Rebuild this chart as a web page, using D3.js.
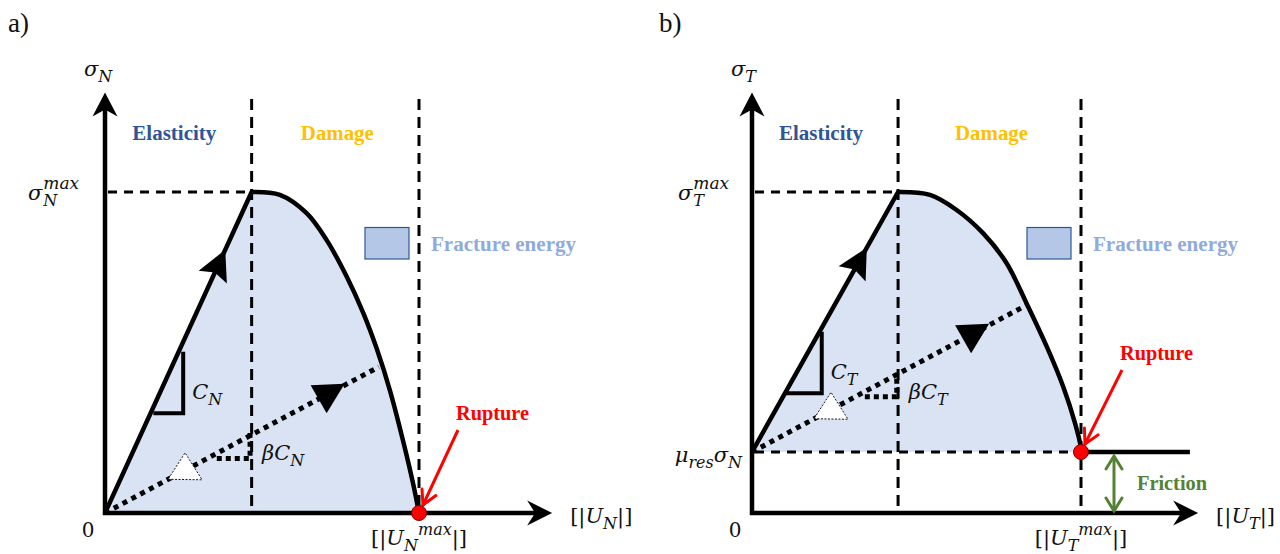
<!DOCTYPE html>
<html><head><meta charset="utf-8">
<script src="https://cdn.jsdelivr.net/npm/d3@7"></script>
<style>body{margin:0;background:#fff}svg{display:block}</style>
</head><body>
<svg id="c" width="1280" height="554"></svg>
<script>
// ---------------- data (normalised: U / U_max , sigma / sigma_max) ----------------
const panelTags = ["a)", "b)"];
const regionLabels = ["Elasticity", "Damage"];
const legendLabel = "Fracture energy";
const ruptureLabel = "Rupture";
const frictionLabel = "Friction";
// panel a : normal law
const curveA_u = [0, 0.467, 0.557, 0.642, 0.706, 0.770, 0.823, 0.865, 0.908, 0.950, 0.982, 1.0];
const curveA_s = [0, 1.0, 0.991, 0.934, 0.850, 0.736, 0.622, 0.513, 0.380, 0.222, 0.088, 0];
const unloadA_u = [0, 0.872];
const unloadA_s = [0, 0.455];
// panel b : tangential law
const residualB = 0.19;
const curveB_u = [0, 0.444, 0.541, 0.622, 0.703, 0.774, 0.835, 0.896, 0.946, 0.982, 0.999, 1.0];
const curveB_s = [0.19, 1.0, 0.991, 0.944, 0.871, 0.778, 0.652, 0.518, 0.393, 0.279, 0.207, 0.19];
const unloadB_u = [0, 0.835];
const unloadB_s = [0.19, 0.648];
const frictionEndB = 1.331;

// ---------------- styling ----------------
const SERIF = "'Liberation Serif','DejaVu Serif',serif";
const MATH = "'DejaVu Serif','Liberation Serif',serif";
const C = {fill:"#DAE3F3", legFill:"#B4C7E7", legStroke:"#2F5597", elas:"#2F5597",
  dam:"#FFC000", frac:"#8FAADC", red:"#FF0000", green:"#548235"};

const svg = d3.select("#c");

function pts(us, ss, x, y){ return us.map((u,i)=>[x(u), y(ss[i])]); }

function stealth(g, tip, dir, len, hw, notch, fill){
  const [dx,dy]=dir, px=-dy, py=dx;
  const b=[tip[0]-dx*len, tip[1]-dy*len];
  const n=[tip[0]-dx*notch, tip[1]-dy*notch];
  g.append("path").attr("d",`M${tip}L${b[0]+px*hw},${b[1]+py*hw}L${n}L${b[0]-px*hw},${b[1]-py*hw}Z`)
    .attr("fill",fill||"#000");
}
function vArrow(g, from, to, color, w, hl){
  g.append("line").attr("x1",from[0]).attr("y1",from[1]).attr("x2",to[0]).attr("y2",to[1])
    .attr("stroke",color).attr("stroke-width",w);
  const a=Math.atan2(from[1]-to[1], from[0]-to[0]);
  [0.5,-0.5].forEach(d=>{
    g.append("line").attr("x1",to[0]).attr("y1",to[1])
     .attr("x2",to[0]+hl*Math.cos(a+d)).attr("y2",to[1]+hl*Math.sin(a+d))
     .attr("stroke",color).attr("stroke-width",w).attr("stroke-linecap","round");
  });
}
// math text: parts = [text, kind] kind: 'n' normal, 'i' italic, 'sub', 'sup'
function mathText(g, x, y, parts, anchor, size){
  size=size||20;
  const t=g.append("text").attr("x",x).attr("y",y).attr("font-family",MATH)
    .attr("font-size",size).attr("text-anchor",anchor||"start").attr("fill","#111");
  let shift=0;
  parts.forEach(([s,k])=>{
    const sp=t.append("tspan").text(s);
    let target=0;
    if(k==="sub"){target=6; sp.attr("font-size",size*0.76).attr("font-style","italic");}
    else if(k==="sup"){target=-10; sp.attr("font-size",size*0.76).attr("font-style","italic");}
    else if(k==="i"){sp.attr("font-style","italic");}
    sp.attr("dy",target-shift); shift=target;
  });
  return t;
}
// stacked sigma with sub and sup
function sigmaSubSup(g, x, y, sub){
  const s=g.append("text").attr("x",x).attr("y",y).attr("font-family",MATH).attr("font-size",21)
    .attr("font-style","italic").attr("fill","#111").text("σ");
  const w=s.node().getComputedTextLength();
  g.append("text").attr("x",x+w+1).attr("y",y+6).attr("font-family",MATH).attr("font-size",16)
    .attr("font-style","italic").attr("fill","#111").text(sub);
  g.append("text").attr("x",x+w+1).attr("y",y-11).attr("font-family",MATH).attr("font-size",17)
    .attr("font-style","italic").attr("fill","#111").text("max");
}

function drawPanel(cfg){
  const g=svg.append("g");
  const {x,y,base,sym}=cfg;
  const P=pts(cfg.cu, cfg.cs, x, y);
  const origin=P[0], peak=P[1], end=P[P.length-1];
  const soft=d3.line().curve(d3.curveCatmullRom.alpha(0.5))(P.slice(1));
  const law=`M${origin}L${soft.slice(1)}`;
  const y0=y(0), yTop=y(1.31), yDashTop=y(1.29), xTip=x(cfg.xTipU);

  // fracture-energy area
  g.append("path").attr("d",law+"Z").attr("fill",C.fill);

  // dashed guide lines
  const dash=(x1,y1,x2,y2,da)=>g.append("line").attr("x1",x1).attr("y1",y1).attr("x2",x2).attr("y2",y2)
    .attr("stroke","#000").attr("stroke-width",3).attr("stroke-dasharray",da);
  dash(peak[0], yDashTop, peak[0], y0, "11,7");
  dash(x(1), yDashTop, x(1), y0, "11,7");
  dash(x(0)+3, peak[1], peak[0], peak[1], "9,7");
  if(base>0) dash(x(0)+3, y(base), x(1), y(base), "9,7");

  // unloading (dotted)
  const U=pts(cfg.uu, cfg.us, x, y);
  g.append("line").attr("x1",U[0][0]).attr("y1",U[0][1]).attr("x2",U[1][0]).attr("y2",U[1][1])
    .attr("stroke","#000").attr("stroke-width",5).attr("stroke-dasharray","5,5");
  const slope=(U[1][1]-U[0][1])/(U[1][0]-U[0][0]);
  const onU=px=>[px, U[0][1]+slope*(px-U[0][0])];

  // stiffness triangles
  const ct=cfg.cTri;
  g.append("path").attr("d",`M${x(ct[1])},${y(ct[2])}L${x(ct[0])},${y(ct[2])}L${x(ct[0])},${y(ct[3])}`)
    .attr("fill","none").attr("stroke","#000").attr("stroke-width",4);
  const bt=cfg.bTri;
  g.append("path").attr("d",`M${x(bt[1])},${y(bt[2])}L${x(bt[0])},${y(bt[2])}L${x(bt[0])},${y(bt[3])}`)
    .attr("fill","none").attr("stroke","#000").attr("stroke-width",5).attr("stroke-dasharray","5,4");

  // law curve
  g.append("path").attr("d",law).attr("fill","none").attr("stroke","#000")
    .attr("stroke-width",4.5).attr("stroke-linejoin","round");
  if(cfg.fricEnd) g.append("line").attr("x1",end[0]).attr("y1",end[1]).attr("x2",x(cfg.fricEnd)).attr("y2",end[1])
    .attr("stroke","#000").attr("stroke-width",4.5);

  // axes
  g.append("line").attr("x1",x(0)).attr("y1",y0+2).attr("x2",x(0)).attr("y2",yTop+12)
    .attr("stroke","#000").attr("stroke-width",4.5);
  g.append("line").attr("x1",x(0)-2).attr("y1",y0).attr("x2",xTip-12).attr("y2",y0)
    .attr("stroke","#000").attr("stroke-width",4.5);
  stealth(g,[x(0),yTop],[0,-1],24,12.5,17);
  stealth(g,[xTip,y0],[1,0],25,12.5,17);

  // loading arrow on elastic branch
  const L=Math.hypot(peak[0]-origin[0], peak[1]-origin[1]);
  const dir=[(peak[0]-origin[0])/L,(peak[1]-origin[1])/L];
  const tip=[origin[0]+dir[0]*L*cfg.tLoad, origin[1]+dir[1]*L*cfg.tLoad];
  stealth(g,tip,dir,30,15.5,25);

  // unloading / reloading triangles
  const f=onU(x(cfg.triDown));
  g.append("path").attr("d",`M${f[0]-17},${f[1]-9}L${f[0]+17},${f[1]-10.5}L${f[0]-1},${f[1]+19}Z`).attr("fill","#000");
  const w=onU(x(cfg.triUp));
  g.append("path").attr("d",`M${w[0]-17},${w[1]+9}L${w[0]+17},${w[1]+9.5}L${w[0]},${w[1]-17.5}Z`)
    .attr("fill","#fff").attr("stroke","#000").attr("stroke-width",0.9).attr("stroke-dasharray","2,1.5");

  // legend
  g.append("rect").attr("x",x(1)-54).attr("y",227.5).attr("width",44).attr("height",31.5)
    .attr("fill",C.legFill).attr("stroke",C.legStroke).attr("stroke-width",1.2);
  g.append("text").attr("x",x(1)+12).attr("y",251).attr("font-family",SERIF).attr("font-weight","bold")
    .attr("font-size",20).attr("fill",C.frac).attr("textLength",145).attr("lengthAdjust","spacingAndGlyphs").text(legendLabel);

  // region labels
  const lbl=(t,cx,col,tl)=>g.append("text").attr("x",cx).attr("y",140).attr("text-anchor","middle")
    .attr("font-family",SERIF).attr("font-weight","bold").attr("font-size",20).attr("fill",col)
    .attr("textLength",tl).attr("lengthAdjust","spacingAndGlyphs").text(t);
  lbl(regionLabels[0],(x(0)+peak[0])/2-4,C.elas,84);
  lbl(regionLabels[1],(peak[0]+x(1))/2+2,C.dam,73);

  // rupture
  g.append("text").attr("x",x(1)+cfg.rupDx).attr("y",end[1]+cfg.rupDy).attr("font-family",SERIF)
    .attr("font-weight","bold").attr("font-size",20).attr("fill",C.red).attr("textLength",73)
    .attr("lengthAdjust","spacingAndGlyphs").text(ruptureLabel);
  vArrow(g,[x(1)+cfg.rupDx+2,end[1]+cfg.rupDy+10],[end[0]+4,end[1]-8],C.red,3,16);
  g.append("circle").attr("cx",end[0]).attr("cy",end[1]).attr("r",7.5)
    .attr("fill",C.red).attr("stroke","#7a0000").attr("stroke-width",1);

  // tag
  g.append("text").attr("x",cfg.tagX).attr("y",32).attr("font-family",SERIF).attr("font-size",27)
    .attr("fill","#111").text(cfg.tag);

  // axis labels
  mathText(g,x(0)-21,76,[["σ","i"],[sym,"sub"]],"start",21);
  sigmaSubSup(g,x(0)-cfg.smaxDx,200,sym);
  mathText(g,x(0)-17,537,[["0","n"]],"middle",20);
  mathText(g,xTip+18,523,[["[|","n"],["U","i"],[sym,"sub"],["|]","n"]],"start",21);
  mathText(g,x(1),545,[["[|","n"],["U","i"],[sym,"sub"],["max","sup"],["|]","n"]],"middle",21);
  mathText(g,x(ct[0])+9,y(ct[2])-14,[["C","i"],[sym,"sub"]],"start",21);
  mathText(g,x(bt[0])+12,y(bt[2])+2,[["β","i"],["C","i"],[sym,"sub"]],"start",21);
  return g;
}

const yS=d3.scaleLinear().domain([0,1]).range([513,192]);

drawPanel({tag:panelTags[0], tagX:8, sym:"N",
  x:d3.scaleLinear().domain([0,1]).range([105,419]), y:yS, base:0,
  cu:curveA_u, cs:curveA_s, uu:unloadA_u, us:unloadA_s, xTipU:1.424,
  cTri:[0.249,0.154,0.311,0.502], bTri:[0.462,0.356,0.170,0.249],
  tLoad:0.82, triDown:0.709, triUp:0.255, rupDx:37, rupDy:-93, smaxDx:77});

const gb=drawPanel({tag:panelTags[1], tagX:659, sym:"T",
  x:d3.scaleLinear().domain([0,1]).range([752,1081]), y:yS, base:residualB,
  cu:curveB_u, cs:curveB_s, uu:unloadB_u, us:unloadB_s, xTipU:1.356, fricEnd:frictionEndB,
  cTri:[0.212,0.100,0.373,0.565], bTri:[0.440,0.343,0.362,0.421],
  tLoad:0.786, triDown:0.669, triUp:0.240, rupDx:39, rupDy:-92, smaxDx:74});

// panel b extras: residual stress label and friction arrow
const xB=d3.scaleLinear().domain([0,1]).range([752,1081]);
mathText(gb,xB(0)-10,462,[["μ","i"],["res","sub"],["σ","i"],["N","sub"]],"end",21);
const fx=xB(1)+33, fy0=yS(residualB)+4, fy1=yS(0)-2;
gb.append("line").attr("x1",fx).attr("y1",fy0).attr("x2",fx).attr("y2",fy1).attr("stroke",C.green).attr("stroke-width",3);
[[fy0,1],[fy1,-1]].forEach(([yy,s])=>{
  gb.append("path").attr("d",`M${fx-8},${yy+13*s}L${fx},${yy}L${fx+8},${yy+13*s}`)
    .attr("fill","none").attr("stroke",C.green).attr("stroke-width",3).attr("stroke-linecap","round");
});
gb.append("text").attr("x",fx+23).attr("y",490).attr("font-family",SERIF).attr("font-weight","bold")
  .attr("font-size",20).attr("fill",C.green).attr("textLength",70).attr("lengthAdjust","spacingAndGlyphs").text(frictionLabel);
</script>
</body></html>
